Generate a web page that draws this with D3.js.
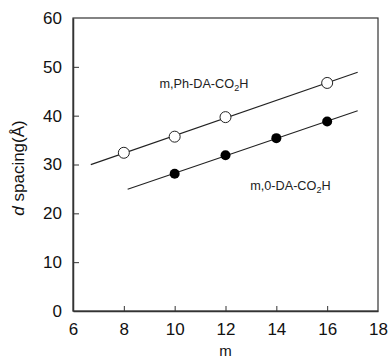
<!DOCTYPE html>
<html>
<head>
<meta charset="utf-8">
<script src="https://cdn.jsdelivr.net/npm/d3@7"></script>
<style>
  body { margin: 0; background: #fff; }
  svg { font-family: Arial, "Liberation Sans", sans-serif; }
</style>
</head>
<body>
<svg id="chart"></svg>
<script>
// data
var mPh = [8, 10, 12, 16];
var dPh = [32.4, 35.7, 39.7, 46.7];
var m0 = [10, 12, 14, 16];
var d0 = [28.1, 31.9, 35.4, 38.8];
var phFitRange = [6.7, 17.2];
var zeroFitRange = [8.15, 17.2];
var xTicks = [6, 8, 10, 12, 14, 16, 18];
var yTicks = [0, 10, 20, 30, 40, 50, 60];

var W = 392, H = 359;
var margin = {top: 18, right: 14, bottom: 48, left: 73};
var width = W - margin.left - margin.right,
    height = H - margin.top - margin.bottom;

var svg = d3.select("#chart").attr("width", W).attr("height", H),
    g = svg.append("g").attr("transform", "translate(" + margin.left + "," + margin.top + ")");

var x = d3.scaleLinear().domain([6, 18]).range([0, width]);
var y = d3.scaleLinear().domain([0, 60]).range([height, 0]);

// least squares fit
function fit(xs, ys) {
  var mx = d3.mean(xs), my = d3.mean(ys), sxx = 0, sxy = 0;
  xs.forEach(function(v, i) { sxx += (v - mx) * (v - mx); sxy += (v - mx) * (ys[i] - my); });
  var b = sxy / sxx;
  return function(v) { return my + b * (v - mx); };
}

var line = d3.line()
  .x(function(d) { return x(d[0]); })
  .y(function(d) { return y(d[1]); });

var fPh = fit(mPh, dPh), f0 = fit(m0, d0);

g.append("path")
  .attr("d", line(phFitRange.map(function(v) { return [v, fPh(v)]; })))
  .attr("fill", "none").attr("stroke", "#222").attr("stroke-width", 1.1);
g.append("path")
  .attr("d", line(zeroFitRange.map(function(v) { return [v, f0(v)]; })))
  .attr("fill", "none").attr("stroke", "#222").attr("stroke-width", 1.1);

// frame
g.append("rect")
  .attr("width", width).attr("height", height)
  .attr("fill", "none").attr("stroke", "#333").attr("stroke-width", 1.2);

// axes with inside ticks
var xAxis = g.append("g")
  .attr("transform", "translate(0," + height + ")")
  .call(d3.axisBottom(x).tickValues(xTicks).tickSizeInner(-5).tickSizeOuter(0).tickPadding(12));
var yAxis = g.append("g")
  .call(d3.axisLeft(y).tickValues(yTicks).tickSizeInner(-6).tickSizeOuter(0).tickPadding(11));

[xAxis, yAxis].forEach(function(a) {
  a.select(".domain").attr("stroke", "#333").attr("stroke-width", 1.5);
  a.selectAll(".tick line").attr("stroke", "#333");
  a.selectAll(".tick text").attr("fill", "#111").style("font-size", "17px")
    .style("font-family", "Arial, 'Liberation Sans', sans-serif");
});
xAxis.selectAll(".tick").filter(function(d) { return d === 6 || d === 18; }).select("line").remove();
yAxis.selectAll(".tick").filter(function(d) { return d === 0 || d === 60; }).select("line").remove();

// points
g.selectAll(".ph").data(mPh).enter().append("circle")
  .attr("cx", function(d) { return x(d); })
  .attr("cy", function(d, i) { return y(dPh[i]); })
  .attr("r", 5.5)
  .attr("fill", "#fff").attr("stroke", "#222").attr("stroke-width", 1);
g.selectAll(".zero").data(m0).enter().append("circle")
  .attr("cx", function(d) { return x(d); })
  .attr("cy", function(d, i) { return y(d0[i]); })
  .attr("r", 5)
  .attr("fill", "#000");

// series labels
function label(tx, ty, pre) {
  var t = g.append("text").attr("x", x(tx)).attr("y", y(ty))
    .style("font-size", "12.7px").attr("fill", "#222");
  t.append("tspan").text(pre + "-DA-CO");
  t.append("tspan").text("2").attr("dy", 3).style("font-size", "9px");
  t.append("tspan").text("H").attr("dy", -3);
}
label(9.4, 45.7, "m,Ph");
label(12.97, 24.8, "m,0");

// axis titles
svg.append("text")
  .attr("x", margin.left + width / 2).attr("y", 355.5)
  .attr("text-anchor", "middle").style("font-size", "15px").attr("fill", "#111")
  .text("m");

var yt = svg.append("text")
  .attr("transform", "translate(24," + 168 + ") rotate(-90)")
  .attr("text-anchor", "middle").style("font-size", "17px").attr("fill", "#111");
yt.append("tspan").text("d").style("font-style", "italic");
yt.append("tspan").text(" spacing(Å)");
</script>
</body>
</html>
